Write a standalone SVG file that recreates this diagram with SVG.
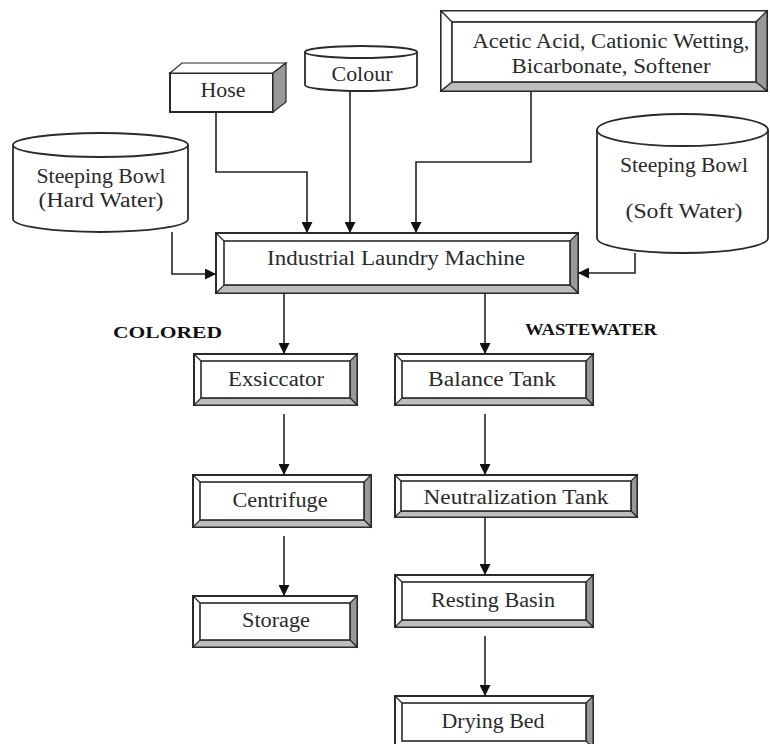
<svg xmlns="http://www.w3.org/2000/svg" width="770" height="744" viewBox="0 0 770 744">
<defs>
<marker id="ah" viewBox="0 0 10 10" refX="10" refY="5" markerWidth="11" markerHeight="11" markerUnits="userSpaceOnUse" orient="auto">
<path d="M0,0 L10,5 L0,10 Z" fill="#111"/>
</marker>
</defs>
<style>
text{font-family:"Liberation Serif","Times New Roman",serif;font-size:20px;fill:#2a2a2a;text-anchor:middle}
.lbl{font-weight:bold;font-size:17px;fill:#111;text-anchor:start}
.o{fill:#fff;stroke:#2a2a2a;stroke-width:2}
.i{fill:#fff;stroke:#2a2a2a;stroke-width:1.6}
.r{fill:#999;stroke:#2a2a2a;stroke-width:1.2}
.b{fill:#bdbdbd;stroke:#2a2a2a;stroke-width:1.2}
.w{fill:#fff;stroke:#2a2a2a;stroke-width:1.2}
.c{fill:#fff;stroke:#2a2a2a;stroke-width:1.8}
.cn path{fill:none;stroke:#222;stroke-width:1.6;marker-end:url(#ah)}
</style>
<rect width="770" height="744" fill="#fff"/>

<g id="hose">
<rect class="o" x="170" y="73" width="103" height="39"/>
<polygon class="w" points="170,73 182,63 286,63 273,73"/>
<polygon class="r" points="273,73 286,63 286,102 273,112"/>
<text x="223" y="97" textLength="45" lengthAdjust="spacingAndGlyphs">Hose</text>
</g>

<g id="colour">
<path class="c" d="M305,52 V85 A56,6 0 0 0 417,85 V52"/>
<ellipse class="c" cx="361" cy="52" rx="56" ry="6"/>
<text x="362" y="81" textLength="61" lengthAdjust="spacingAndGlyphs">Colour</text>
</g>

<g id="acetic">
<rect class="o" x="441" y="11" width="326" height="80"/>
<polygon class="w" points="441,11 767,11 756,22 452,22"/>
<polygon class="w" points="441,11 452,22 452,82 441,91"/>
<polygon class="r" points="767,11 767,91 756,82 756,22"/>
<polygon class="b" points="441,91 767,91 756,82 452,82"/>
<rect class="i" x="452" y="22" width="304" height="60"/>
<text x="611" y="48" textLength="277" lengthAdjust="spacingAndGlyphs">Acetic Acid,  Cationic Wetting,</text>
<text x="611" y="73" textLength="199" lengthAdjust="spacingAndGlyphs">Bicarbonate, Softener</text>
</g>

<g id="hard">
<path class="c" d="M13,145 V219 A87.5,13 0 0 0 188,219 V145"/>
<ellipse class="c" cx="100.5" cy="145" rx="87.5" ry="12"/>
<text x="101" y="183" textLength="129" lengthAdjust="spacingAndGlyphs">Steeping Bowl</text>
<text x="101" y="207" textLength="125" lengthAdjust="spacingAndGlyphs">(Hard Water)</text>
</g>

<g id="soft">
<path class="c" d="M597,130 V238 A85.5,15 0 0 0 768,238 V130"/>
<ellipse class="c" cx="682.5" cy="130" rx="85.5" ry="16"/>
<text x="684" y="172" textLength="128" lengthAdjust="spacingAndGlyphs">Steeping Bowl</text>
<text x="684" y="218" textLength="117" lengthAdjust="spacingAndGlyphs">(Soft Water)</text>
</g>

<g id="laundry">
<rect class="o" x="216" y="233" width="362" height="60"/>
<polygon class="r" points="578,233 578,293 570,285 570,241"/>
<polygon class="b" points="216,293 578,293 570,285 224,285"/>
<line x1="216" y1="233" x2="224" y2="241" stroke="#2a2a2a" stroke-width="1.2"/>
<rect class="i" x="224" y="241" width="346" height="44"/>
<text x="396" y="265" textLength="258" lengthAdjust="spacingAndGlyphs">Industrial Laundry Machine</text>
</g>

<g id="exsiccator">
<rect class="o" x="194" y="354" width="163" height="51"/>
<polygon class="r" points="357,354 357,405 350,398 350,361"/>
<polygon class="b" points="194,405 357,405 350,398 201,398"/>
<line x1="194" y1="354" x2="201" y2="361" stroke="#2a2a2a" stroke-width="1.2"/>
<rect class="i" x="201" y="361" width="149" height="37"/>
<text x="276" y="386" textLength="96" lengthAdjust="spacingAndGlyphs">Exsiccator</text>
</g>

<g id="balance">
<rect class="o" x="395" y="354" width="198" height="51"/>
<polygon class="r" points="593,354 593,405 586,398 586,361"/>
<polygon class="b" points="395,405 593,405 586,398 402,398"/>
<line x1="395" y1="354" x2="402" y2="361" stroke="#2a2a2a" stroke-width="1.2"/>
<rect class="i" x="402" y="361" width="184" height="37"/>
<text x="492" y="386" textLength="128" lengthAdjust="spacingAndGlyphs">Balance Tank</text>
</g>

<g id="centrifuge">
<rect class="o" x="193" y="475" width="178" height="52"/>
<polygon class="r" points="371,475 371,527 364,520 364,482"/>
<polygon class="b" points="193,527 371,527 364,520 200,520"/>
<line x1="193" y1="475" x2="200" y2="482" stroke="#2a2a2a" stroke-width="1.2"/>
<rect class="i" x="200" y="482" width="164" height="38"/>
<text x="280" y="507" textLength="95" lengthAdjust="spacingAndGlyphs">Centrifuge</text>
</g>

<g id="storage">
<rect class="o" x="193" y="596" width="164" height="51"/>
<polygon class="r" points="357,596 357,647 350,640 350,603"/>
<polygon class="b" points="193,647 357,647 350,640 200,640"/>
<line x1="193" y1="596" x2="200" y2="603" stroke="#2a2a2a" stroke-width="1.2"/>
<rect class="i" x="200" y="603" width="150" height="37"/>
<text x="276" y="627" textLength="68" lengthAdjust="spacingAndGlyphs">Storage</text>
</g>

<g id="neutralization">
<rect class="o" x="395" y="475" width="242" height="42"/>
<polygon class="r" points="637,475 637,517 631,511 631,481"/>
<polygon class="b" points="395,517 637,517 631,511 401,511"/>
<line x1="395" y1="475" x2="401" y2="481" stroke="#2a2a2a" stroke-width="1.2"/>
<rect class="i" x="401" y="481" width="230" height="30"/>
<text x="516" y="504" textLength="185" lengthAdjust="spacingAndGlyphs">Neutralization Tank</text>
</g>

<g id="resting">
<rect class="o" x="395" y="575" width="198" height="52"/>
<polygon class="r" points="593,575 593,627 586,620 586,582"/>
<polygon class="b" points="395,627 593,627 586,620 402,620"/>
<line x1="395" y1="575" x2="402" y2="582" stroke="#2a2a2a" stroke-width="1.2"/>
<rect class="i" x="402" y="582" width="184" height="38"/>
<text x="493" y="607" textLength="124" lengthAdjust="spacingAndGlyphs">Resting Basin</text>
</g>

<g id="drying">
<rect class="o" x="395" y="696" width="198" height="52"/>
<polygon class="r" points="593,696 593,748 586,741 586,703"/>
<line x1="395" y1="696" x2="402" y2="703" stroke="#2a2a2a" stroke-width="1.2"/>
<rect class="i" x="402" y="703" width="184" height="38"/>
<text x="493" y="728" textLength="103" lengthAdjust="spacingAndGlyphs">Drying Bed</text>
</g>

<g id="labels">
<text class="lbl" x="113" y="338" textLength="109" lengthAdjust="spacingAndGlyphs">COLORED</text>
<text class="lbl" x="525" y="335" textLength="132" lengthAdjust="spacingAndGlyphs" style="font-size:16px">WASTEWATER</text>
</g>

<g id="connectors" class="cn">
<path d="M216,112 V172 H307 V233"/>
<path d="M350,92 V233"/>
<path d="M531,91 V162 H416 V233"/>
<path d="M172,232 V274 H216"/>
<path d="M635,253 V273 H578"/>
<path d="M284,293 V354"/>
<path d="M485,293 V354"/>
<path d="M284,414 V475"/>
<path d="M284,536 V596"/>
<path d="M485,414 V475"/>
<path d="M485,517 V575"/>
<path d="M485,636 V696"/>
</g>
</svg>
